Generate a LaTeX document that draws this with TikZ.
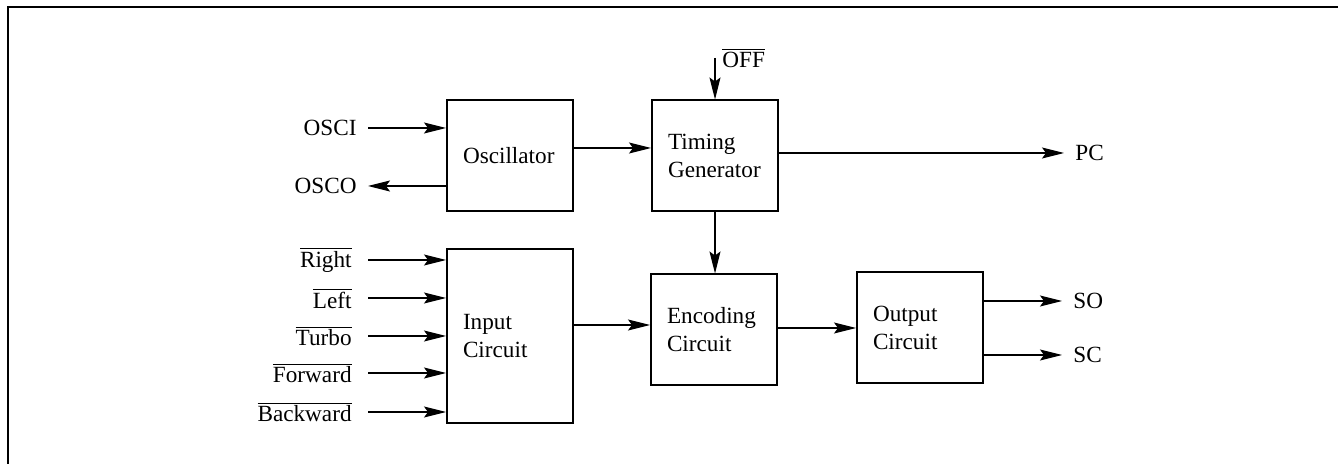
\documentclass[tikz,border=0pt]{standalone}
\usepackage{fontspec}
\setmainfont{Liberation Serif}
\usetikzlibrary{positioning, calc, arrows.meta}

\begin{document}
\begin{tikzpicture}[x=0.5pt, y=-0.5pt, >={Stealth[length=11pt, width=5.5pt, inset=2pt]},
    font=\fontsize{11.6}{14}\selectfont,
    block/.style={draw, line width=1pt, text width=47pt, inner xsep=8pt, align=left, minimum height=#1},
    block/.default=55.5pt,
    lbl/.style={inner xsep=5.5pt, inner ysep=2pt},
    sig/.style={->, line width=0.6pt}]

  \useasboundingbox (0,0) rectangle (1338,464);
  \draw[line width=1.3pt] (8,464) -- (8,7) -- (1338,7);

  % blocks
  \node[block] (osc) at (510,156) {Oscillator};
  \node[block] (tim) at (715,156) {Timing\\Generator};
  \node[block=87pt] (inp) at (510,336) {Input\\Circuit};
  \node[block] (enc) at (714,330) {Encoding\\Circuit};
  \node[block] (outc) at (920,328) {Output\\Circuit};

  % oscillator pins
  \node[lbl, anchor=east] (osci) at (368,128) {OSCI};
  \node[lbl, anchor=east] (osco) at (368,186) {OSCO};
  \draw[sig] (osci.east) -- (osci.east -| osc.west);
  \draw[sig] (osc.west |- osco.east) -- (osco.east);
  \draw[sig] ([yshift=4pt]osc.east) -- ([yshift=4pt]tim.west);

  % timing generator
  \node[lbl, anchor=west, inner xsep=2pt] (off) at (718,58) {$\overline{\mbox{OFF}}$};
  \draw[sig] (tim.north |- off.west) -- (tim.north);
  \node[lbl, anchor=west] (pc) at (1064,153) {PC};
  \draw[sig] (tim.east |- pc.west) -- (pc.west);
  \draw[sig] (tim.south) -- (tim.south |- enc.north);

  % input lines
  \foreach \nm/\txt/\y in {right/Right/260, left/Left/298, turbo/Turbo/336, fwd/Forward/373, bwd/Backward/412} {
    \node[lbl, anchor=east, inner xsep=8pt] (\nm) at (368,\y) {$\overline{\mbox{\txt}}$};
    \draw[sig] (\nm.east) -- (\nm.east -| inp.west);
  }

  \coordinate (encin) at ([yshift=2.5pt]enc.west);
  \draw[sig] (inp.east |- encin) -- (encin);
  \draw[sig] (enc.east |- outc.west) -- (outc.west);

  % outputs
  \node[lbl, anchor=west] (so) at (1062,301) {SO};
  \node[lbl, anchor=west] (sc) at (1062,355) {SC};
  \draw[sig] (outc.east |- so.west) -- (so.west);
  \draw[sig] (outc.east |- sc.west) -- (sc.west);

\end{tikzpicture}
\end{document}
